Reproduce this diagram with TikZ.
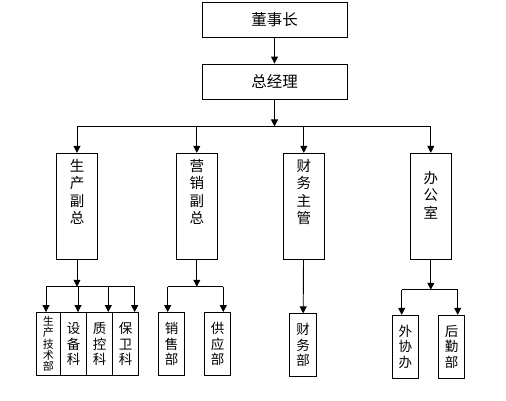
\documentclass[tikz,border=0pt]{standalone}
\usepackage{fontspec}
\newfontfamily\cjk{Noto Sans CJK SC}
\usetikzlibrary{arrows.meta,calc}

\tikzset{
	box/.style={draw, rectangle, inner sep=0pt, font=\cjk},
	top/.style={box, minimum width=145, minimum height=35, font=\cjk\fontsize{15.5}{16}\selectfont},
	mid/.style={box, minimum width=41, minimum height=106, font=\cjk\fontsize{14.5}{17.5}\selectfont},
	low/.style={box, minimum width=26, minimum height=63, align=center, font=\cjk\fontsize{13.5}{15.5}\selectfont},
	arr/.style={-{Triangle[width=7pt,length=7pt]}},
}
\newcommand{\coltext}[2]{\parbox[c][100pt][t]{24pt}{\centering\vspace*{#1}#2}}

\begin{document}
\begin{tikzpicture}[x=1pt, y=-1pt, line width=0.9pt]
	\useasboundingbox (0,0) rectangle (506,400);

	\node[top] (dsz) at (274.5, 19.5) {\raisebox{-4pt}{董事长}};
	\node[top] (zjl) at (274.5, 81.5) {\raisebox{-4pt}{总经理}};

	\node[mid] (scfz) at (77, 206.3) {\coltext{3pt}{生\\产\\副\\总}};
	\node[mid] (yxfz) at (196.8, 206.3) {\coltext{3pt}{营\\销\\副\\总}};
	\node[mid] (cwzg) at (303.8, 206.3) {\coltext{3pt}{财\\务\\主\\管}};
	\node[mid] (bgs) at (430.8, 206.3) {\coltext{15pt}{办\\公\\室}};

	\node[low, minimum width=24, font=\cjk\fontsize{11}{11.3}\selectfont] (jsb) at (48.3, 344) {生\\产\\技\\术\\部};
	\node[low] (sbk) at (73.5, 344) {设\\备\\科};
	\node[low] (zkk) at (99.7, 344) {质\\控\\科};
	\node[low] (bwk) at (125.5, 344) {保\\卫\\科};
	\node[low] (xsb) at (171.5, 344) {销\\售\\部};
	\node[low] (gyb) at (217.5, 344) {供\\应\\部};
	\node[low, minimum width=27.4] (cwb) at (303, 345.3) {财\\务\\部};
	\node[low] (wxb) at (405.3, 346.8) {外\\协\\办};
	\node[low] (hqb) at (451.7, 346.8) {后\\勤\\部};

	% top
	\draw[arr] (dsz) -- (zjl);
	\coordinate (bus) at ($(zjl.south)+(0,27)$);
	\draw[arr] (zjl) -- (bus);
	\draw (bus -| scfz.north) -- (bus -| bgs.north);
	\foreach \n in {scfz, yxfz, cwzg, bgs}
		\draw[arr] (bus -| \n.north) -- (\n.north);

	% production
	\coordinate (sbus) at ($(scfz.south)+(0,27)$);
	\draw[arr] (scfz) -- (sbus);
	\draw ([xshift=-2.3]jsb.north |- sbus) -- ([xshift=9.2]bwk.north |- sbus);
	\draw[arr] ([xshift=-2.3]jsb.north |- sbus) -- ([xshift=-2.3]jsb.north);
	\draw[arr] ([xshift=4.5]sbk.north |- sbus) -- ([xshift=4.5]sbk.north);
	\draw[arr] ([xshift=8.6]zkk.north |- sbus) -- ([xshift=8.6]zkk.north);
	\draw[arr] ([xshift=9.2]bwk.north |- sbus) -- ([xshift=9.2]bwk.north);

	% sales
	\coordinate (ybus) at ($(yxfz.south)+(0,27)$);
	\draw[arr] (yxfz) -- (ybus);
	\draw ([xshift=-3.8]xsb.north |- ybus) -- ([xshift=5.8]gyb.north |- ybus);
	\draw[arr] ([xshift=-3.8]xsb.north |- ybus) -- ([xshift=-3.8]xsb.north);
	\draw[arr] ([xshift=5.8]gyb.north |- ybus) -- ([xshift=5.8]gyb.north);

	% finance
	\draw[arr] (cwzg) -- (cwb);

	% office
	\coordinate (bbus) at ($(bgs.south)+(0,30)$);
	\draw[arr] (bgs) -- (bbus);
	\draw ([xshift=-3.6]wxb.north |- bbus) -- ([xshift=6]hqb.north |- bbus);
	\draw[arr] ([xshift=-3.6]wxb.north |- bbus) -- ([xshift=-3.6]wxb.north);
	\draw[arr] ([xshift=6]hqb.north |- bbus) -- ([xshift=6]hqb.north);
\end{tikzpicture}
\end{document}
